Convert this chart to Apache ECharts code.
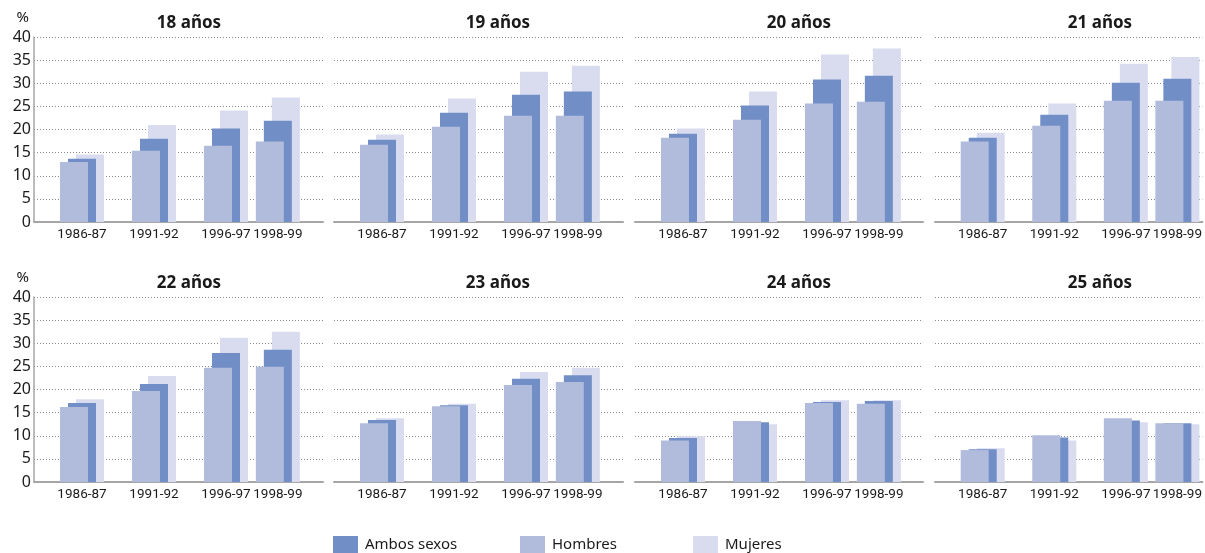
<!DOCTYPE html>
<html>
<head>
<meta charset="utf-8">
<script src="https://cdn.jsdelivr.net/npm/echarts@6/dist/echarts.min.js"></script>
<style>html,body{margin:0;padding:0;background:#fff}#c{width:1205px;height:553px}</style>
</head>
<body>
<div id="c"></div>
<script>
// ---- data ----
const periods = ['1986-87', '1991-92', '1996-97', '1998-99'];
const ages = ['18 años', '19 años', '20 años', '21 años', '22 años', '23 años', '24 años', '25 años'];
const yTicks = [0, 5, 10, 15, 20, 25, 30, 35, 40];
const ambosSexos = [
  [13.7, 18.0, 20.2, 21.9],
  [17.8, 23.6, 27.5, 28.2],
  [19.1, 25.2, 30.8, 31.6],
  [18.2, 23.2, 30.1, 31.0],
  [17.1, 21.2, 27.9, 28.6],
  [13.4, 16.6, 22.3, 23.1],
  [9.5, 12.9, 17.3, 17.5],
  [7.1, 9.6, 13.3, 12.7]
];
const hombres = [
  [13.0, 15.4, 16.5, 17.4],
  [16.7, 20.6, 23.0, 23.0],
  [18.2, 22.1, 25.6, 26.0],
  [17.4, 20.8, 26.2, 26.2],
  [16.2, 19.7, 24.7, 24.9],
  [12.7, 16.4, 21.0, 21.6],
  [9.0, 13.2, 17.1, 16.9],
  [6.9, 10.1, 13.8, 12.7]
];
const mujeres = [
  [14.6, 21.0, 24.1, 26.9],
  [18.9, 26.7, 32.5, 33.8],
  [20.2, 28.2, 36.2, 37.5],
  [19.3, 25.6, 34.2, 35.7],
  [17.9, 22.9, 31.2, 32.5],
  [13.8, 16.9, 23.8, 24.7],
  [9.9, 12.5, 17.7, 17.7],
  [7.3, 9.0, 12.9, 12.5]
];

// ---- layout ----
const xSlot = [0, 1, 2, 2.72];           // horizontal slot of each period on the x scale
const panelLeft = [34, 334, 635, 935];
const panelWidth = [289, 289, 288, 269];
const rowTop = [37, 297];
const titleX = [184, 493, 794, 1095];
const PH = 185, UNIT = 72, ORIGIN = 48;  // px per slot, px from panel left to first slot
const COL = { ambos: '#728ec6', hombres: '#b1bcdd', mujeres: '#d9dcef' };
const TXT = '#1a1a1a';

const grid = [], xAxis = [], yAxis = [], series = [], title = [];
ages.forEach((age, p) => {
  const col = p % 4, row = Math.floor(p / 4);
  const pw = panelWidth[col];
  grid.push({ left: panelLeft[col], top: rowTop[row], width: pw, height: PH, containLabel: false });
  title.push({
    text: age, left: titleX[col], top: rowTop[row] - 27, textAlign: 'center',
    textStyle: { fontFamily: 'Noto Sans', fontWeight: 'bold', fontSize: 17, color: TXT }
  });
  xAxis.push({
    type: 'value', gridIndex: p, min: -ORIGIN / UNIT, max: (pw - ORIGIN) / UNIT,
    axisLine: { show: true, onZero: false, lineStyle: { color: '#a6a6a6', width: 2 } },
    axisTick: { show: false },
    splitLine: { show: false },
    axisLabel: {
      customValues: xSlot,
      margin: 6,
      fontFamily: 'Roboto', fontSize: 13.5, color: TXT,
      formatter: v => {
        let best = 0;
        xSlot.forEach((s, i) => { if (Math.abs(s - v) < Math.abs(xSlot[best] - v)) best = i; });
        return periods[best];
      }
    }
  });
  const showY = col === 0;
  yAxis.push({
    type: 'value', gridIndex: p, min: yTicks[0], max: yTicks[yTicks.length - 1], interval: 5,
    name: showY ? '%' : '',
    nameLocation: 'end', nameGap: 12,
    nameTextStyle: { fontFamily: 'Noto Sans', fontSize: 15, color: TXT, align: 'right', padding: [0, 5, 0, 0] },
    axisLine: { show: showY, onZero: false, lineStyle: { color: '#a6a6a6', width: 1.5 } },
    axisTick: { show: false },
    axisLabel: { show: showY, margin: 3, fontFamily: 'Noto Sans', fontSize: 16, color: TXT },
    splitLine: { show: true, lineStyle: { color: '#8a8a8a', width: 1, type: [1, 2] } }
  });
  const mk = (name, arr, color, z) => ({
    name, type: 'bar', xAxisIndex: p, yAxisIndex: p, z,
    barWidth: 28, barGap: '-71.4%',
    itemStyle: { color },
    emphasis: { disabled: true },
    data: arr[p].map((v, i) => [xSlot[i], v])
  });
  series.push(mk('Hombres', hombres, COL.hombres, 4));
  series.push(mk('Ambos sexos', ambosSexos, COL.ambos, 3));
  series.push(mk('Mujeres', mujeres, COL.mujeres, 2));
});

const legendBase = (name, left) => ({
  data: [name], left, top: 536, padding: 0, itemWidth: 25, itemHeight: 18, icon: 'rect',
  selectedMode: false,
  textStyle: { fontFamily: 'Noto Sans', fontSize: 15, color: TXT, padding: [0, 0, 0, 2] }
});

const chart = echarts.init(document.getElementById('c'), null, { renderer: 'canvas' });
chart.setOption({
  animation: false,
  backgroundColor: '#ffffff',
  title, grid, xAxis, yAxis, series,
  legend: [legendBase('Ambos sexos', 333), legendBase('Hombres', 520), legendBase('Mujeres', 693)]
});
</script>
</body>
</html>
